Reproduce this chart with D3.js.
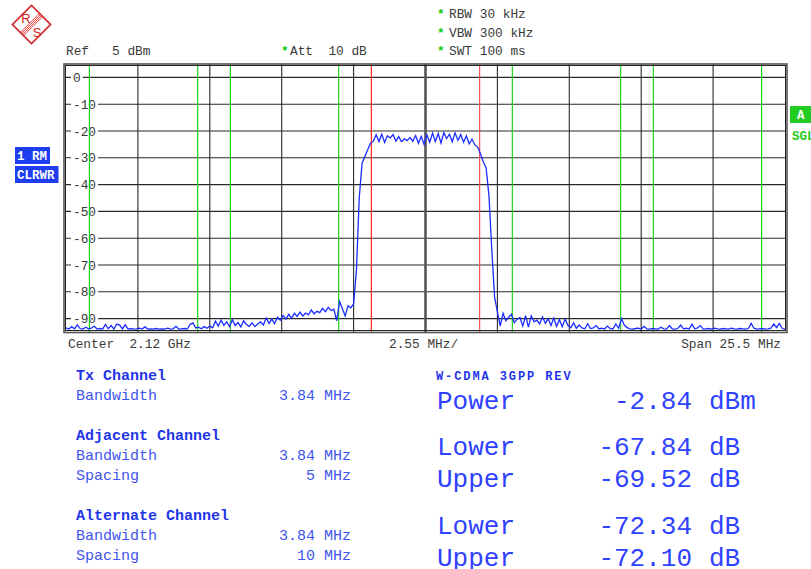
<!DOCTYPE html>
<html>
<head>
<meta charset="utf-8">
<script src="https://cdn.jsdelivr.net/npm/d3@7"></script>
<style>
  body { margin: 0; background: #fff; }
  text { font-family: "Liberation Mono", monospace; }
</style>
</head>
<body>
<div id="wrapper"></div>
<script>
// trace levels (dBm), 256 points evenly spread over the span
const traceLevels = [
  -93.5, -93.9, -93.0, -93.8, -92.3, -93.7, -93.9, -93.2, -93.8, -93.6,
  -92.8, -93.9, -93.7, -93.9, -92.2, -93.8, -92.6, -93.9, -92.0, -92.4,
  -93.8, -92.3, -93.9, -93.7, -93.9, -93.8, -93.6, -93.9, -93.1, -93.9,
  -93.8, -93.9, -93.7, -93.9, -93.8, -93.9, -93.6, -93.9, -93.8, -92.9,
  -93.9, -93.8, -93.7, -93.9, -92.2, -91.6, -93.5, -93.2, -93.8, -93.0,
  -93.6, -92.8, -93.4, -91.0, -92.8, -90.6, -92.5, -91.2, -93.0, -90.4,
  -92.6, -91.5, -93.1, -90.8, -92.2, -92.9, -91.6, -93.0, -92.0, -91.2,
  -92.4, -89.8, -91.8, -90.2, -91.9, -89.5, -90.6, -88.8, -90.2, -88.4,
  -89.9, -88.0, -89.2, -87.6, -89.0, -87.9, -88.6, -86.8, -88.2, -87.3,
  -87.8, -86.2, -87.4, -85.8, -87.0, -86.5, -90.8, -83.6, -86.2, -89.0,
  -85.2, -86.0, -84.5, -72.0, -45.0, -32.0, -29.5, -27.0, -24.5, -23.8,
  -21.4, -23.9, -21.2, -24.3, -21.8, -22.6, -21.3, -23.8, -22.1, -24.0,
  -22.9, -23.6, -22.4, -23.8, -21.7, -24.6, -22.0, -25.1, -21.4, -24.2,
  -20.8, -23.9, -21.0, -24.5, -20.6, -22.8, -21.2, -24.0, -20.7, -23.5,
  -21.3, -24.2, -21.8, -24.8, -23.0, -25.2, -26.0, -28.5, -31.5, -33.8,
  -44.0, -64.0, -82.0, -87.5, -92.8, -88.0, -90.8, -89.5, -88.4, -91.5,
  -90.2, -89.6, -92.8, -88.9, -93.2, -89.0, -91.2, -90.6, -92.0, -89.4,
  -91.8, -90.0, -92.6, -89.8, -92.9, -90.4, -93.0, -90.2, -92.5, -93.4,
  -91.6, -93.6, -92.4, -93.5, -93.8, -91.9, -93.7, -93.5, -92.6, -93.8,
  -93.6, -93.9, -92.8, -93.7, -93.8, -92.0, -93.6, -90.0, -92.4, -93.4,
  -93.8, -93.9, -93.7, -93.6, -93.9, -92.9, -93.8, -93.9, -93.7, -93.8,
  -93.9, -93.2, -93.8, -93.9, -92.6, -93.8, -93.9, -93.7, -92.4, -93.8,
  -93.6, -93.9, -92.1, -93.8, -93.5, -92.6, -93.9, -93.8, -93.7, -93.9,
  -93.6, -93.8, -93.9, -93.7, -93.8, -93.9, -93.6, -93.8, -93.9, -93.7,
  -93.8, -93.9, -93.7, -91.8, -93.6, -93.9, -93.8, -93.7, -93.9, -93.8,
  -93.6, -92.0, -93.4, -91.8, -93.7, -93.9,
]

// frequency offset from center (MHz)
const spanStart = -12.75
const spanEnd = 12.75
const divisions = 10
const refLevel = 5
const yTickValues = [0, -10, -20, -30, -40, -50, -60, -70, -80, -90]

// channel limit lines (MHz offset)
const txEdges = [-1.92, 1.92]
const channelEdges = [-11.92, -8.08, -6.92, -3.08, 3.08, 6.92, 8.08, 11.92]

// header texts
const headerLeft = "Ref   5 dBm"
const headerAtt = "Att  10 dB"
const headerRight = ["RBW 30 kHz", "VBW 300 kHz", "SWT 100 ms"]
const axisLabels = ["Center  2.12 GHz", "2.55 MHz/", "Span 25.5 MHz"]

// channel table
const channelHeads = ["Tx Channel", "Adjacent Channel", "Alternate Channel"]
const channelBandwidths = ["3.84 MHz", "3.84 MHz", "3.84 MHz"]
const channelSpacings = [null, "5 MHz", "10 MHz"]
const standardName = "W-CDMA 3GPP REV"
const resultLabels = ["Power", "Lower", "Upper", "Lower", "Upper"]
const resultValues = ["-2.84", "-67.84", "-69.52", "-72.34", "-72.10"]
const resultUnits = ["dBm", "dB", "dB", "dB", "dB"]

function drawChart() {
  const dimensions = {
    width: 811,
    height: 569,
    plotLeft: 66,
    plotRight: 785,
    plotTop: 64,
    plotBottom: 332,
  }

  const wrapper = d3.select("#wrapper")
    .append("svg")
      .attr("width", dimensions.width)
      .attr("height", dimensions.height)
      .style("background", "#fff")

  // scales
  const xScale = d3.scaleLinear()
    .domain([spanStart, spanEnd])
    .range([dimensions.plotLeft, dimensions.plotRight])

  const yScale = d3.scaleLinear()
    .domain([refLevel - 100, refLevel])
    .range([dimensions.plotBottom, dimensions.plotTop])

  // R&S logo
  const logo = wrapper.append("g")
      .attr("transform", "translate(31.5,24.5)")
  const logoSquare = logo.append("g")
      .attr("transform", "rotate(45)")
  logoSquare.append("rect")
      .attr("x", -13.5)
      .attr("y", -13.5)
      .attr("width", 27)
      .attr("height", 27)
      .attr("fill", "#fff")
      .attr("stroke", "#d42222")
      .attr("stroke-width", 1.6)
  logoSquare.selectAll(".stripe")
    .data([-2.2, -0.7, 0.8, 2.3])
    .join("line")
      .attr("x1", d => d)
      .attr("x2", d => d)
      .attr("y1", -13.5)
      .attr("y2", 13.5)
      .attr("stroke", "#d42222")
      .attr("stroke-width", 0.8)
  logo.append("text")
      .attr("x", -5.5)
      .attr("y", -1.5)
      .attr("text-anchor", "middle")
      .style("font-family", "Liberation Sans")
      .style("font-size", "13px")
      .attr("fill", "#d42222")
      .text("R")
  logo.append("text")
      .attr("x", 5.5)
      .attr("y", 12.5)
      .attr("text-anchor", "middle")
      .style("font-family", "Liberation Sans")
      .style("font-size", "13px")
      .attr("fill", "#d42222")
      .text("S")

  // header
  const headerStyle = sel => sel
      .style("font-size", "12.8px")
      .attr("fill", "#3a3a3a")
  const star = (x, y) => wrapper.append("text")
      .attr("x", x)
      .attr("y", y)
      .style("font-size", "12.8px")
      .style("font-weight", "bold")
      .attr("fill", "#11cc11")
      .text("*")

  wrapper.append("text")
      .attr("x", 66)
      .attr("y", 55)
      .call(headerStyle)
      .style("white-space", "pre")
      .text(headerLeft)
  star(281, 55)
  wrapper.append("text")
      .attr("x", 290)
      .attr("y", 55)
      .call(headerStyle)
      .style("white-space", "pre")
      .text(headerAtt)
  headerRight.forEach((t, i) => {
    star(437, 18 + i * 18.5)
    wrapper.append("text")
        .attr("x", 449)
        .attr("y", 18 + i * 18.5)
        .call(headerStyle)
        .text(t)
  })

  // trace badges
  const badge = (x, y, w, h, color, label) => {
    wrapper.append("rect")
        .attr("x", x)
        .attr("y", y)
        .attr("width", w)
        .attr("height", h)
        .attr("fill", color)
    wrapper.append("text")
        .attr("x", x + 2)
        .attr("y", y + h - 4)
        .style("font-size", "12.5px")
        .style("font-weight", "bold")
        .style("white-space", "pre")
        .attr("fill", "#fff")
        .text(label)
  }
  badge(15, 147, 35, 17, "#1e3cf0", "1 RM")
  badge(15, 166, 43.5, 17, "#1e3cf0", "CLRWR")
  wrapper.append("rect")
      .attr("x", 790)
      .attr("y", 106)
      .attr("width", 25)
      .attr("height", 17)
      .attr("fill", "#22cc22")
  wrapper.append("text")
      .attr("x", 797)
      .attr("y", 119)
      .style("font-size", "12.5px")
      .style("font-weight", "bold")
      .attr("fill", "#fff")
      .text("A")
  wrapper.append("text")
      .attr("x", 792)
      .attr("y", 140)
      .style("font-size", "12.5px")
      .style("font-weight", "bold")
      .attr("fill", "#22cc22")
      .text("SGL")

  // grid
  const bounds = wrapper.append("g")
  const xGridValues = d3.range(1, divisions).map(i => spanStart + i * (spanEnd - spanStart) / divisions)

  bounds.selectAll(".h-grid")
    .data(yTickValues)
    .join("line")
      .attr("class", "h-grid")
      .attr("x1", dimensions.plotLeft)
      .attr("x2", dimensions.plotRight)
      .attr("y1", yScale)
      .attr("y2", yScale)
      .attr("stroke", "#2a2a2a")
      .attr("stroke-width", 1.1)

  bounds.selectAll(".v-grid")
    .data(xGridValues)
    .join("line")
      .attr("class", "v-grid")
      .attr("x1", xScale)
      .attr("x2", xScale)
      .attr("y1", dimensions.plotTop)
      .attr("y2", dimensions.plotBottom)
      .attr("stroke", (d, i) => i == 4 ? "#555" : "#2a2a2a")
      .attr("stroke-width", (d, i) => i == 4 ? 2.6 : 1.1)

  // level labels sit on the grid lines
  const yLabels = bounds.selectAll(".y-label")
    .data(yTickValues)
    .join("g")
      .attr("class", "y-label")
      .attr("transform", d => `translate(73, ${yScale(d)})`)
  const yLabelText = yLabels.append("text")
      .attr("y", 4.5)
      .style("font-size", "12.8px")
      .attr("fill", "#3a3a3a")
      .text(d => d)
  yLabels.insert("rect", "text")
      .attr("x", -2)
      .attr("y", -6)
      .attr("height", 12)
      .attr("width", function() {
        return this.parentNode.querySelector("text").getComputedTextLength() + 4
      })
      .attr("fill", "#fff")

  // channel limit lines
  bounds.selectAll(".channel-line")
    .data(channelEdges)
    .join("line")
      .attr("class", "channel-line")
      .attr("x1", xScale)
      .attr("x2", xScale)
      .attr("y1", dimensions.plotTop)
      .attr("y2", dimensions.plotBottom)
      .attr("stroke", "#1ed01e")
      .attr("stroke-width", 1.2)

  bounds.selectAll(".tx-line")
    .data(txEdges)
    .join("line")
      .attr("class", "tx-line")
      .attr("x1", xScale)
      .attr("x2", xScale)
      .attr("y1", dimensions.plotTop)
      .attr("y2", dimensions.plotBottom)
      .attr("stroke", (d, i) => i == 0 ? "#ff2020" : "#f25050")
      .attr("stroke-width", 1.2)

  // trace
  const step = (spanEnd - spanStart) / (traceLevels.length - 1)
  const lineGenerator = d3.line()
    .x((d, i) => xScale(spanStart + i * step))
    .y(d => yScale(d))

  bounds.append("path")
      .attr("d", lineGenerator(traceLevels))
      .attr("fill", "none")
      .attr("stroke", "#1a2cff")
      .attr("stroke-width", 1.3)

  // frame
  bounds.append("rect")
      .attr("x", 64)
      .attr("y", 64)
      .attr("width", 723)
      .attr("height", 268.5)
      .attr("fill", "none")
      .attr("stroke", "#555")
      .attr("stroke-width", 1.6)
  bounds.append("rect")
      .attr("x", 65.5)
      .attr("y", 65.5)
      .attr("width", 720)
      .attr("height", 265)
      .attr("fill", "none")
      .attr("stroke", "#222")
      .attr("stroke-width", 1)

  // axis captions
  wrapper.append("text")
      .attr("x", 68)
      .attr("y", 348)
      .call(headerStyle)
      .style("white-space", "pre")
      .text(axisLabels[0])
  wrapper.append("text")
      .attr("x", 389)
      .attr("y", 348)
      .call(headerStyle)
      .text(axisLabels[1])
  wrapper.append("text")
      .attr("x", 781)
      .attr("y", 348)
      .attr("text-anchor", "end")
      .call(headerStyle)
      .text(axisLabels[2])

  // channel table
  const table = wrapper.append("g")
  const headTops = [380, 440, 520]
  channelHeads.forEach((head, i) => {
    const y = headTops[i]
    table.append("text")
        .attr("x", 76)
        .attr("y", y)
        .style("font-size", "15px")
        .style("font-weight", "bold")
        .attr("fill", "#1f35e8")
        .text(head)
    const rows = [["Bandwidth", channelBandwidths[i]]]
    if (channelSpacings[i]) rows.push(["Spacing", channelSpacings[i]])
    rows.forEach((row, j) => {
      table.append("text")
          .attr("x", 76)
          .attr("y", y + 20 * (j + 1))
          .style("font-size", "15px")
          .attr("fill", "#3f55ee")
          .text(row[0])
      table.append("text")
          .attr("x", 351)
          .attr("y", y + 20 * (j + 1))
          .attr("text-anchor", "end")
          .style("font-size", "15px")
          .attr("fill", "#3f55ee")
          .text(row[1])
    })
  })

  table.append("text")
      .attr("x", 436)
      .attr("y", 380)
      .style("font-size", "12px")
      .style("font-weight", "bold")
      .style("letter-spacing", "1.9px")
      .attr("fill", "#1f35e8")
      .text(standardName)

  const resultBaselines = [409, 455, 487, 534, 566]
  resultLabels.forEach((label, i) => {
    const y = resultBaselines[i]
    table.append("text")
        .attr("x", 437)
        .attr("y", y)
        .style("font-size", "26px")
        .attr("fill", "#2f42ff")
        .text(label)
    table.append("text")
        .attr("x", 692)
        .attr("y", y)
        .attr("text-anchor", "end")
        .style("font-size", "26px")
        .attr("fill", "#2f42ff")
        .text(resultValues[i])
    table.append("text")
        .attr("x", 709)
        .attr("y", y)
        .style("font-size", "26px")
        .attr("fill", "#2f42ff")
        .text(resultUnits[i])
  })
}
drawChart()
</script>
</body>
</html>
